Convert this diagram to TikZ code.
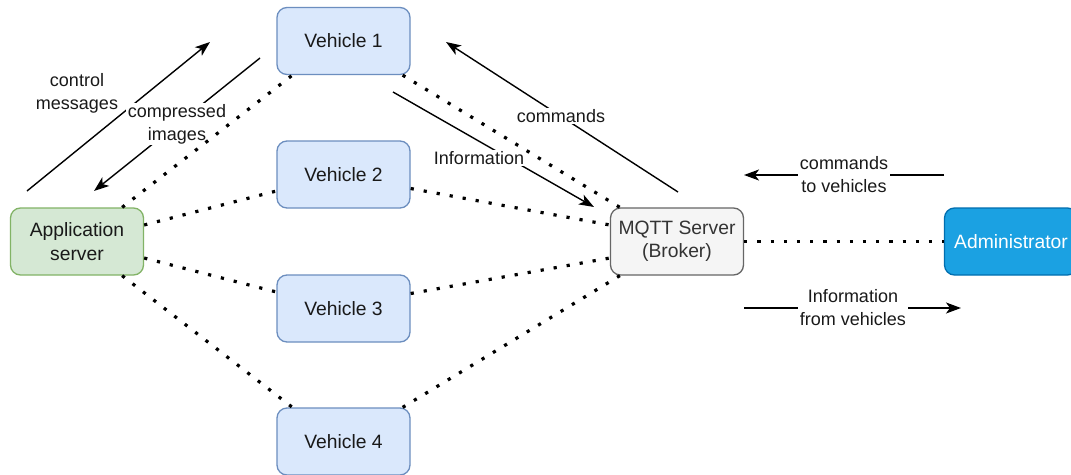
\documentclass[tikz,border=0pt]{standalone}
\usepackage{fontspec}
\setmainfont{Liberation Sans}
\usetikzlibrary{arrows.meta}
\definecolor{vehfill}{HTML}{DAE8FC}
\definecolor{vehline}{HTML}{6C8EBF}
\definecolor{appfill}{HTML}{D5E8D4}
\definecolor{appline}{HTML}{82B366}
\definecolor{brkfill}{HTML}{F5F5F5}
\definecolor{brkline}{HTML}{666666}
\definecolor{brktext}{HTML}{333333}
\definecolor{admfill}{HTML}{1BA1E2}
\definecolor{admline}{HTML}{006EAF}
\begin{document}
\begin{tikzpicture}[x=1pt,y=-1pt,
  box/.style={rectangle, rounded corners=10pt, line width=1.3pt,
    minimum width=133pt, minimum height=67pt, inner sep=0pt,
    align=center, font=\fontsize{19.3}{23.5}\selectfont},
  vehicle/.style={box, draw=vehline, fill=vehfill, text=black!90},
  appbox/.style={box, draw=appline, fill=appfill, text=black!90},
  broker/.style={box, draw=brkline, fill=brkfill, text=brktext},
  admin/.style={box, draw=admline, fill=admfill, text=white},
  link/.style={line width=3.2pt, dash pattern=on 3.2pt off 10pt},
  flow/.style={line width=1.4pt, -{Stealth[length=15pt,width=11pt,inset=4pt]}},
  lbl/.style={fill=white, inner sep=1.5pt, align=center,
    font=\fontsize{18}{23}\selectfont, text=black!90}]
\clip (0,0) rectangle (1071,474);
\fill[white] (0,0) rectangle (1071,474);

% message flows
\coordinate (cmS) at (27,191);   \coordinate (cmE) at (210,42);
\coordinate (ciS) at (260,58);   \coordinate (ciE) at (94,191);
\coordinate (inS) at (393,92);   \coordinate (inE) at (594,207);
\coordinate (coS) at (678,192);  \coordinate (coE) at (446,42);
\coordinate (cvS) at (944,175);  \coordinate (cvE) at (744,175);
\coordinate (ivS) at (744,308);  \coordinate (ivE) at (961,308);

\draw[flow] (cmS) -- (cmE);
\draw[flow] (ciS) -- (ciE);
\draw[flow] (inS) -- (inE);
\draw[flow] (coS) -- (coE);
\draw[flow] (cvS) -- (cvE);
\draw[flow] (ivS) -- (ivE);

\node[lbl, fill=none] (lcm) at (77,93) {control\\messages};
\node[lbl] (lci) at (177,124) {compressed\\images};
\node[lbl] (lin) at (479,158) {Information};
\node[lbl] (lco) at (561,116) {commands};
\node[lbl] (lcv) at (844,175) {commands\\to vehicles};
\node[lbl] (liv) at (853,308) {Information\\from vehicles};

% components
\node[vehicle] (v1) at (343.5,41) {Vehicle 1};
\node[vehicle] (v2) at (343.5,174.5) {Vehicle 2};
\node[vehicle] (v3) at (343.5,308.5) {Vehicle 3};
\node[vehicle] (v4) at (343.5,441.5) {Vehicle 4};
\node[appbox] (app) at (77,241.5) {Application\\server};
\node[broker] (mqtt) at (677,241.5) {MQTT Server\\(Broker)};
\node[admin] (adm) at (1011,241.5) {Administrator};

% wireless links
\draw[link] ([xshift=-22pt]app.north east) -- ([xshift=16pt]v1.south west);
\draw[link] ([yshift=16.5pt]app.east) -- ([yshift=-16.5pt]v2.west);
\draw[link] ([yshift=-16.5pt]app.east) -- ([yshift=16.5pt]v3.west);
\draw[link] ([xshift=-22pt]app.south east) -- ([xshift=16pt]v4.north west);
\draw[link] ([xshift=-8pt]v1.south east) -- ([xshift=10pt]mqtt.north west);
\draw[link] ([yshift=-14pt]v2.east) -- ([yshift=16.5pt]mqtt.west);
\draw[link] ([yshift=15pt]v3.east) -- ([yshift=-16.5pt]mqtt.west);
\draw[link] ([xshift=-8pt]v4.north east) -- ([xshift=10pt]mqtt.south west);
\draw[link] (mqtt.east) -- (adm.west);
\end{tikzpicture}
\end{document}
